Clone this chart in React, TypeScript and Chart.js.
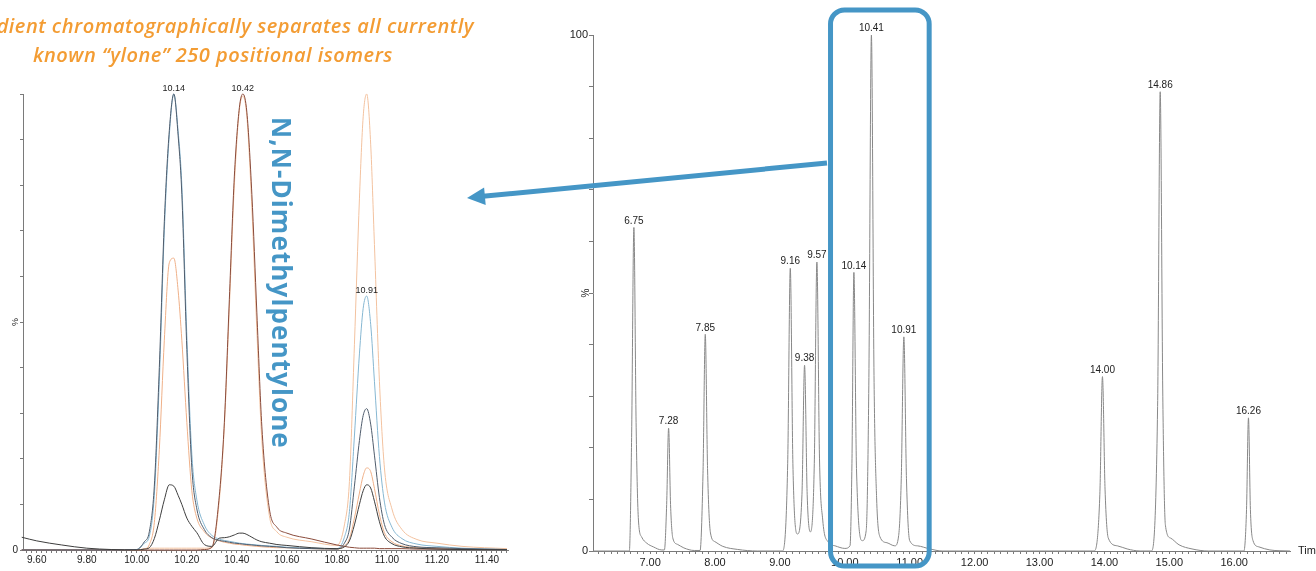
import React, { useEffect, useRef } from 'react';
import { Chart, registerables } from 'chart.js';
Chart.register(...registerables);

// ---------- Left (zoomed overlay) chromatogram ----------
const LEFT_TIMES = [
  9.54, 9.6, 9.7, 9.8, 9.9, 10.0,
  10.03, 10.05, 10.07, 10.09, 10.11, 10.13, 10.148, 10.165, 10.18, 10.2, 10.22, 10.24, 10.27, 10.3,
  10.33, 10.35, 10.37, 10.39, 10.41, 10.424, 10.44, 10.46, 10.48, 10.5, 10.53, 10.56, 10.6, 10.7, 10.8,
  10.83, 10.85, 10.87, 10.89, 10.905, 10.919, 10.935, 10.95, 10.97, 10.99,
  11.02, 11.06, 11.12, 11.2, 11.3, 11.48,
];
const LEFT_BLUE = [
  0, 0, 0, 0, 0, 0.1,
  1.5, 3, 12, 37, 70, 91, 100, 92, 80, 47, 21, 11, 5.5, 3.2,
  2.4, 2.1, 1.9, 1.7, 1.5, 1.4, 1.3, 1.2, 1.1, 1.0, 0.9, 0.8, 0.6, 0.4, 0.3,
  2.8, 8.4, 25, 43, 53, 55.7, 49.5, 37, 20.5, 10.5,
  5, 2.5, 1.3, 0.8, 0.4, 0.1,
];
const LEFT_SLATE = [
  0, 0, 0, 0, 0, 0.1,
  1.8, 4, 14, 40, 72, 92, 100, 91, 78, 44, 18, 9, 4.5, 2.7,
  2.1, 1.9, 1.7, 1.5, 1.4, 1.3, 1.2, 1.1, 1.0, 0.9, 0.8, 0.7, 0.5, 0.3, 0.2,
  1.5, 4.6, 14, 24, 29.5, 31, 27.6, 20.8, 11.5, 5.6,
  2.8, 1.4, 0.7, 0.5, 0.3, 0.1,
];
const LEFT_PEACH = [
  0, 0, 0, 0, 0, 0,
  0.2, 1.2, 6, 22, 46, 63, 64, 57, 46, 28, 13, 7, 4, 2.6,
  2, 1.7, 1.5, 1.3, 1.2, 1.1, 1.0, 0.9, 0.8, 0.7, 0.6, 0.5, 0.5, 0.3, 0.2,
  0.9, 2.5, 7, 12.5, 16.3, 18, 17.2, 13.5, 7.8, 3.8,
  1.8, 0.9, 0.5, 0.3, 0.2, 0.1,
];
const LEFT_BROWN = [
  0, 0, 0, 0, 0, 0,
  0, 0, 0, 0, 0, 0, 0, 0, 0, 0, 0, 0, 0.1, 0.6,
  12, 28, 55, 82, 97, 100, 96, 78, 52, 27, 9, 5, 3.7, 2.4, 1.1,
  0.8, 0.6, 0.5, 0.4, 0.4, 0.4, 0.4, 0.4, 0.3, 0.3,
  0.3, 0.3, 0.2, 0.2, 0.1, 0.1,
];
const LEFT_LIGHT_ORANGE = [
  0, 0, 0, 0, 0, 0,
  0.3, 0.4, 0.4, 0.4, 0.4, 0.4, 0.4, 0.4, 0.4, 0.4, 0.4, 0.4, 0.4, 0.5,
  11, 27, 53, 80, 96.5, 99.5, 95, 75, 48, 24, 7.5, 4, 2.8, 1.8, 1.0,
  5.5, 15, 45, 77, 95, 100, 89, 67, 37, 18,
  9, 4.5, 2.3, 1.5, 0.8, 0.3,
];
const LEFT_DARK = [
  2.8, 2.0, 1.1, 0.4, 0.1, 0,
  0.2, 0.5, 2.5, 6.5, 11, 14.3, 14, 12, 10, 7, 5.2, 3.8, 1.2, 0.8,
  2.6, 2.7, 2.9, 3.3, 3.7, 3.7, 3.4, 2.8, 2.2, 1.8, 1.5, 1.2, 1.0, 0.5, 0.3,
  0.7, 2, 5.5, 10, 13, 14.3, 13.6, 10.7, 6.2, 3,
  1.4, 0.7, 0.4, 0.2, 0.1, 0.05,
];
const LEFT_PEAK_TEXT = ['10.14', '10.42', '10.91'];
const LEFT_PEAK_X = [10.148, 10.424, 10.919];
const LEFT_PEAK_Y = [100, 100, 55.7];

// ---------- Right (full run) chromatogram ----------
const RIGHT_TIMES = [
  6.12, 6.68, 6.715, 6.75, 6.785, 6.82, 6.87, 6.95, 7.05, 7.18,
  7.22, 7.255, 7.285, 7.315, 7.35, 7.42, 7.52, 7.68,
  7.77, 7.815, 7.85, 7.885, 7.93, 8.0, 8.12, 8.35, 8.65,
  9.04, 9.12, 9.16, 9.2, 9.27, 9.34, 9.38, 9.42, 9.47, 9.53, 9.57, 9.61, 9.66, 9.74, 9.85, 10.0,
  10.08, 10.11, 10.14, 10.18, 10.27, 10.33, 10.37, 10.41, 10.45, 10.49, 10.54, 10.65, 10.77,
  10.83, 10.87, 10.91, 10.95, 11.0, 11.12, 11.31, 11.5,
  13.84, 13.93, 13.97, 14.01, 14.06, 14.2, 14.35, 14.55,
  14.72, 14.82, 14.86, 14.9, 14.94, 15.02, 15.15, 15.35, 15.6,
  16.15, 16.19, 16.22, 16.25, 16.29, 16.38, 16.55, 16.86,
];
const RIGHT_SIGNAL = [
  0, 0, 22, 62.7, 24, 6, 2.7, 1.5, 0.8, 0.2,
  0.2, 9, 23.8, 9, 2.5, 1.3, 0.6, 0.1,
  0.1, 15, 42, 16, 3.5, 1.8, 0.9, 0.3, 0,
  0, 17, 54.8, 17, 3.3, 11, 36, 11, 3.7, 17, 56, 18, 6, 1.8, 1.0, 0.5,
  1, 17, 54, 16, 2, 4, 32, 100, 34, 10.3, 2.8, 1.6, 1.0,
  3, 14, 41.5, 14, 2, 1, 0.4, 0,
  0, 11, 33.8, 12, 2.5, 1.0, 0.4, 0,
  0, 28, 89, 30, 5, 2.5, 1.2, 0.4, 0,
  0, 8, 25.8, 8, 2, 0.8, 0.2, 0,
];
const RIGHT_PEAK_TEXT = ['6.75', '7.28', '7.85', '9.16', '9.38', '9.57', '10.14', '10.41', '10.91', '14.00', '14.86', '16.26'];
const RIGHT_PEAK_X = [6.75, 7.285, 7.85, 9.16, 9.38, 9.57, 10.14, 10.41, 10.91, 13.97, 14.86, 16.22];
const RIGHT_PEAK_Y = [62.7, 23.8, 42, 54.8, 36, 56, 54, 100, 41.5, 33.8, 89, 25.8];
const HIGHLIGHT_RANGE = [9.78, 11.3];

const BLUE = '#4596c6';
const ORANGE = '#f39c33';
const FONT = "'Liberation Sans', Arial, sans-serif";
const AXIS = '#7a7a7a';

const pts = (xs: number[], ys: number[]) => xs.map((x, i) => ({ x, y: ys[i] }));

function line(label: string, ys: number[], xs: number[], color: string) {
  return {
    label,
    data: pts(xs, ys),
    borderColor: color,
    backgroundColor: color,
    borderWidth: 1,
    pointRadius: 0,
    cubicInterpolationMode: 'monotone' as const,
    clip: 6,
  };
}

function isMultiple(v: number, step: number) {
  const r = v / step;
  return Math.abs(r - Math.round(r)) < 1e-6;
}

function peakLabels(ctx: CanvasRenderingContext2D, chart: any, texts: string[], xs: number[], ys: number[], size: number, off: number) {
  const sx = chart.scales.x;
  const sy = chart.scales.y;
  ctx.save();
  ctx.font = `${size}px ${FONT}`;
  ctx.fillStyle = '#222';
  ctx.textAlign = 'center';
  ctx.textBaseline = 'bottom';
  texts.forEach((t, i) => {
    ctx.fillText(t, sx.getPixelForValue(xs[i]), sy.getPixelForValue(ys[i]) - off);
  });
  ctx.restore();
}

function rotatedText(ctx: CanvasRenderingContext2D, text: string, x: number, y: number, size: number) {
  ctx.save();
  ctx.translate(x, y);
  ctx.rotate(-Math.PI / 2);
  ctx.font = `${size}px ${FONT}`;
  ctx.fillStyle = '#222';
  ctx.textAlign = 'center';
  ctx.textBaseline = 'middle';
  ctx.fillText(text, 0, 0);
  ctx.restore();
}

function LeftChart() {
  const ref = useRef<HTMLCanvasElement>(null);
  useEffect(() => {
    const chart = new Chart(ref.current as HTMLCanvasElement, {
      type: 'line',
      data: {
        datasets: [
          line('dark', LEFT_DARK, LEFT_TIMES, '#3d3d3d'),
          line('slate', LEFT_SLATE, LEFT_TIMES, '#4f5c6c'),
          line('brown', LEFT_BROWN, LEFT_TIMES, '#8a4b3b'),
          line('blue', LEFT_BLUE, LEFT_TIMES, '#86b7d2'),
          line('peach', LEFT_PEACH, LEFT_TIMES, '#efb088'),
          line('lightOrange', LEFT_LIGHT_ORANGE, LEFT_TIMES, '#f3c29f'),
        ],
      },
      options: {
        animation: false,
        responsive: false,
        events: [],
        layout: { padding: { top: 94, right: 12, left: 0, bottom: 0 } },
        plugins: { legend: { display: false }, tooltip: { enabled: false } },
        scales: {
          x: {
            type: 'linear',
            min: 9.545,
            max: 11.484,
            afterFit: (s: any) => { s.height = 21; },
            border: { color: AXIS, width: 1 },
            grid: { drawOnChartArea: false, drawTicks: true, tickLength: 3, color: AXIS },
            ticks: {
              stepSize: 0.02,
              includeBounds: false,
              autoSkip: false,
              maxRotation: 0,
              padding: 1,
              color: '#222',
              font: { family: FONT, size: 10 },
              callback: (v: any) => (isMultiple(Number(v), 0.2) ? Number(v).toFixed(2) : ''),
            },
          },
          y: {
            min: 0,
            max: 100,
            afterFit: (s: any) => { s.width = 23; },
            border: { color: AXIS, width: 1 },
            grid: { drawOnChartArea: false, drawTicks: true, tickLength: 3, color: AXIS },
            ticks: {
              stepSize: 10,
              autoSkip: false,
              padding: 2,
              color: '#222',
              font: { family: FONT, size: 10 },
              callback: (v: any) => (Number(v) === 0 ? '0' : ''),
            },
          },
        },
      },
      plugins: [
        {
          id: 'leftDecor',
          afterDatasetsDraw(c: any) {
            const ctx = c.ctx;
            peakLabels(ctx, c, LEFT_PEAK_TEXT, LEFT_PEAK_X, LEFT_PEAK_Y, 9, 1);
            rotatedText(ctx, '%', 16, 322, 9);
          },
        },
      ],
    } as any);
    return () => chart.destroy();
  }, []);
  return <canvas ref={ref} width={520} height={571} style={{ position: 'absolute', left: 0, top: 0, width: 520, height: 571 }} />;
}

function RightChart() {
  const ref = useRef<HTMLCanvasElement>(null);
  useEffect(() => {
    const chart = new Chart(ref.current as HTMLCanvasElement, {
      type: 'line',
      data: {
        datasets: [line('TIC', RIGHT_SIGNAL, RIGHT_TIMES, '#888888')],
      },
      options: {
        animation: false,
        responsive: false,
        events: [],
        layout: { padding: { top: 35, right: 26, left: 0, bottom: 0 } },
        plugins: { legend: { display: false }, tooltip: { enabled: false } },
        scales: {
          x: {
            type: 'linear',
            min: 6.12,
            max: 16.86,
            afterFit: (s: any) => { s.height = 20; },
            border: { color: AXIS, width: 1 },
            grid: { drawOnChartArea: false, drawTicks: true, tickLength: 3, color: AXIS },
            ticks: {
              stepSize: 0.1,
              includeBounds: false,
              autoSkip: false,
              maxRotation: 0,
              padding: 2,
              color: '#222',
              font: { family: FONT, size: 11 },
              callback: (v: any) => (isMultiple(Number(v), 1) ? Number(v).toFixed(2) : ''),
            },
          },
          y: {
            min: 0,
            max: 100,
            afterFit: (s: any) => { s.width = 53; },
            border: { color: AXIS, width: 1 },
            grid: { drawOnChartArea: false, drawTicks: true, tickLength: 4, color: AXIS },
            ticks: {
              stepSize: 10,
              autoSkip: false,
              padding: 1,
              color: '#222',
              font: { family: FONT, size: 11 },
              callback: (v: any) => (Number(v) === 0 || Number(v) === 100 ? String(v) : ''),
            },
          },
        },
      },
      plugins: [
        {
          id: 'rightDecor',
          afterDatasetsDraw(c: any) {
            const ctx = c.ctx;
            peakLabels(ctx, c, RIGHT_PEAK_TEXT, RIGHT_PEAK_X, RIGHT_PEAK_Y, 10, 1.5);
            rotatedText(ctx, '%', 46, 293, 10);
            const area = c.chartArea;
            ctx.save();
            ctx.font = `11px ${FONT}`;
            ctx.fillStyle = '#222';
            ctx.textAlign = 'left';
            ctx.textBaseline = 'middle';
            ctx.fillText('Time', area.right + 8, area.bottom);
            // highlight box
            const x1 = c.scales.x.getPixelForValue(HIGHLIGHT_RANGE[0]);
            const x2 = c.scales.x.getPixelForValue(HIGHLIGHT_RANGE[1]);
            const y1 = 10;
            const y2 = 566;
            const r = 14;
            ctx.strokeStyle = BLUE;
            ctx.lineWidth = 5;
            ctx.beginPath();
            ctx.moveTo(x1 + r, y1);
            ctx.lineTo(x2 - r, y1);
            ctx.arcTo(x2, y1, x2, y1 + r, r);
            ctx.lineTo(x2, y2 - r);
            ctx.arcTo(x2, y2, x2 - r, y2, r);
            ctx.lineTo(x1 + r, y2);
            ctx.arcTo(x1, y2, x1, y2 - r, r);
            ctx.lineTo(x1, y1 + r);
            ctx.arcTo(x1, y1, x1 + r, y1, r);
            ctx.closePath();
            ctx.stroke();
            ctx.restore();
          },
        },
      ],
    } as any);
    return () => chart.destroy();
  }, []);
  return <canvas ref={ref} width={776} height={571} style={{ position: 'absolute', left: 540, top: 0, width: 776, height: 571 }} />;
}

const textStyle = {
  position: 'absolute' as const,
  whiteSpace: 'nowrap' as const,
  fontFamily: "'Open Sans', sans-serif",
  fontStyle: 'italic',
  fontWeight: 600,
  fontSize: 20,
  lineHeight: '20px',
  letterSpacing: 0.5,
  color: ORANGE,
};

export default function App() {
  return (
    <div style={{ position: 'fixed', left: 0, top: 0, width: 1316, height: 571, background: '#fff', overflow: 'hidden' }}>
      <LeftChart />
      <RightChart />
      <div style={{ ...textStyle, right: 1316 - 474, top: 16 }}>
        dient chromatographically separates all currently
      </div>
      <div style={{ ...textStyle, left: 33, top: 45 }}>
        known “ylone” 250 positional isomers
      </div>
      <div
        style={{
          position: 'absolute', left: 267, top: 117, writingMode: 'vertical-rl',
          fontFamily: "'Open Sans', sans-serif", fontWeight: 700, fontSize: 26,
          lineHeight: '30px', letterSpacing: 1.1, color: BLUE, whiteSpace: 'nowrap',
        }}
      >
        N,N-Dimethylpentylone
      </div>
      <svg width={1316} height={571} style={{ position: 'absolute', left: 0, top: 0, pointerEvents: 'none' }}>
        <line x1={827} y1={163} x2={483} y2={196.3} stroke={BLUE} strokeWidth={5} />
        <polygon points="467,198 485.7,205 484.1,187.5" fill={BLUE} />
      </svg>
    </div>
  );
}
